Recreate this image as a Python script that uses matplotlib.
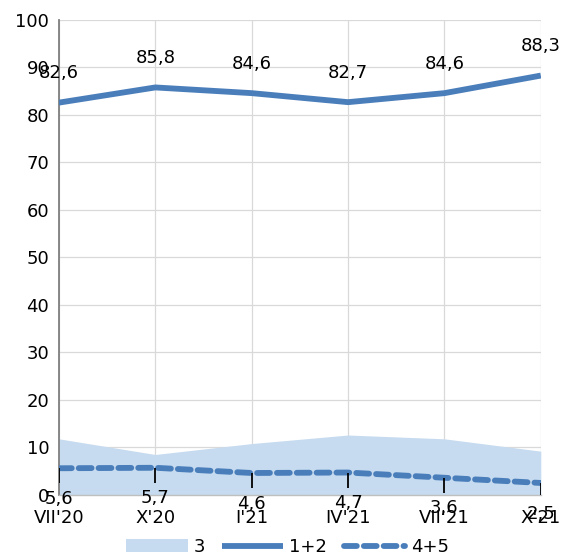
import numpy as np
import matplotlib.pyplot as plt

periods = ["VII'20", "X'20", "I'21", "IV'21", "VII'21", "X'21"]
top_box = [82.6, 85.8, 84.6, 82.7, 84.6, 88.3]     # 1+2
middle = [11.8, 8.5, 10.8, 12.6, 11.8, 9.2]        # 3
bottom_box = [5.6, 5.7, 4.6, 4.7, 3.6, 2.5]        # 4+5

blue = '#4a7ebb'
light = '#c6dbef'
fs = 13

fig = plt.figure(figsize=(5.61, 5.56), dpi=100)
ax = fig.add_axes([0.105, 0.11, 0.859, 0.854])

x = np.arange(len(periods))

ax.fill_between(x, 0, middle, color=light, lw=0, label='3', zorder=1)
ax.plot(x, top_box, color=blue, lw=4.2, solid_capstyle='butt', label='1+2', zorder=3)
ax.plot(x, bottom_box, color=blue, lw=4.2, ls=(0, (2.2, 1.2)),
        dash_capstyle='round', label='4+5', zorder=3)

# leader lines from the 4+5 points to their labels
ax.vlines(x, np.array(bottom_box) - 3.2, bottom_box, color='black', lw=1.3, zorder=4)

def fmt(v):
    return f'{v:.1f}'.replace('.', ',')

for i, v in enumerate(top_box):
    ax.annotate(fmt(v), (x[i], v), xytext=(0, 21), textcoords='offset points',
                ha='center', va='center', fontsize=fs, zorder=5)
for i, v in enumerate(bottom_box):
    ax.annotate(fmt(v), (x[i], v), xytext=(0, -22), textcoords='offset points',
                ha='center', va='center', fontsize=fs, zorder=5)

ax.set_xlim(0, len(periods) - 1)
ax.set_ylim(0, 100)
ax.set_yticks(range(0, 101, 10))
ax.set_xticks(x)
ax.set_xticklabels(periods, fontsize=fs)
ax.tick_params(axis='y', labelsize=fs, length=0, pad=7)
ax.tick_params(axis='x', length=0, pad=10.5)

ax.grid(True, color='#d9d9d9', lw=0.9, zorder=0)
ax.set_axisbelow(True)
for s in ['top', 'right']:
    ax.spines[s].set_visible(False)
ax.spines['left'].set_color('#7f7f7f')
ax.spines['left'].set_linewidth(1.3)
ax.spines['bottom'].set_color('#bfbfbf')
ax.spines['bottom'].set_linewidth(1.0)

fig.legend(*ax.get_legend_handles_labels(), loc='center', bbox_to_anchor=(0.513, 0.016),
           ncol=3, frameon=False, fontsize=fs, handlelength=3.4, handletextpad=0.35,
           columnspacing=0.9, borderpad=0)

fig.savefig('out.png', dpi=100)
